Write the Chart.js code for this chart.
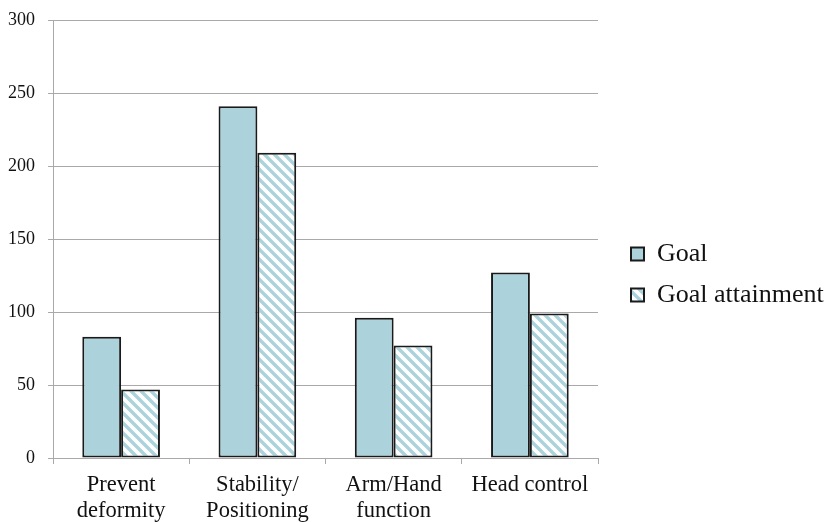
<!DOCTYPE html>
<html>
<head>
<meta charset="utf-8">
<script src="https://cdn.jsdelivr.net/npm/chart.js@4/dist/chart.umd.min.js"></script>
<style>
  html, body { margin: 0; padding: 0; background: #fff; }
  #wrap { width: 830px; height: 522px; position: relative; }
</style>
</head>
<body>
<div id="wrap"><canvas id="chart" width="830" height="522"></canvas></div>
<script>
// Goal areas and the counts of goals / goals attained in each
const categories = [['Prevent', 'deformity'], ['Stability/', 'Positioning'], ['Arm/Hand', 'function'], 'Head control'];
const goalValues = [83, 241, 96, 127];
const attainmentValues = [47, 209, 77, 99];
const seriesNames = ['Goal', 'Goal attainment'];
const yTicks = [0, 50, 100, 150, 200, 250, 300];

const FILL = '#acd3dc';
const EDGE = '#1a1a1a';
const GRID = '#a9a9a9';
const SERIF = '"Liberation Serif", "Times New Roman", serif';

// diagonal "\" stripes on white for the attainment series
function stripes(color) {
  const s = 10;
  const c = document.createElement('canvas');
  c.width = s; c.height = s;
  const g = c.getContext('2d');
  g.fillStyle = '#ffffff';
  g.fillRect(0, 0, s, s);
  g.strokeStyle = color;
  g.lineWidth = 3.4;
  g.beginPath();
  for (let k = -1; k <= 1; k++) {
    g.moveTo(k * s - 2, -2);
    g.lineTo(k * s + s + 2, s + 2);
  }
  g.stroke();
  return g.createPattern(c, 'repeat');
}

// the side legend gets a fixed width and sits a little lower than centred
const legendPlacement = {
  id: 'legendPlacement',
  beforeLayout(chart) {
    const lg = chart.legend;
    if (lg && !lg.__fixedWidth) {
      const fit = lg.fit.bind(lg);
      lg.fit = function () { fit(); this.width = 214; };
      lg.__fixedWidth = true;
    }
  },
  afterLayout(chart) {
    const lg = chart.legend;
    if (lg) { lg.top += 5; lg.bottom += 5; }
  }
};

const ctx = document.getElementById('chart').getContext('2d');
new Chart(ctx, {
  type: 'bar',
  data: {
    labels: categories,
    datasets: [
      {
        label: seriesNames[0],
        data: goalValues,
        backgroundColor: FILL,
        borderColor: EDGE,
        borderWidth: 2,
        borderSkipped: false
      },
      {
        label: seriesNames[1],
        data: attainmentValues,
        backgroundColor: stripes(FILL),
        borderColor: EDGE,
        borderWidth: 2,
        borderSkipped: false
      }
    ]
  },
  plugins: [legendPlacement],
  options: {
    responsive: false,
    animation: false,
    devicePixelRatio: 1,
    layout: { padding: { top: 17, left: 0, right: 0, bottom: 0 } },
    datasets: { bar: { categoryPercentage: 0.57, barPercentage: 1.0 } },
    scales: {
      x: {
        offset: true,
        grid: { drawOnChartArea: false, drawTicks: true, tickLength: 6, color: GRID, lineWidth: 1 },
        border: { display: true, color: GRID, width: 1 },
        ticks: {
          color: '#111',
          font: { family: SERIF, size: 22.5, lineHeight: 1.15 },
          padding: 8,
          maxRotation: 0,
          autoSkip: false
        },
        afterFit: s => { s.height = 64; }
      },
      y: {
        min: 0,
        max: 300,
        afterBuildTicks: s => { s.ticks = yTicks.map(v => ({ value: v })); },
        grid: { color: GRID, lineWidth: 1, drawTicks: true, tickLength: 5 },
        border: { display: true, color: GRID, width: 1 },
        ticks: {
          color: '#111',
          font: { family: SERIF, size: 18, lineHeight: 0.78 },
          padding: 13
        },
        afterFit: s => { s.width = 53; }
      },
      gap: {
        type: 'linear',
        position: 'right',
        display: true,
        grid: { display: false },
        border: { display: false },
        ticks: { display: false },
        afterFit: s => { s.width = 18; }
      }
    },
    plugins: {
      legend: {
        position: 'right',
        align: 'center',
        labels: {
          color: '#111',
          font: { family: SERIF, size: 26 },
          boxWidth: 13,
          boxHeight: 13,
          padding: 15
        }
      },
      tooltip: { enabled: false }
    }
  }
});
</script>
</body>
</html>
